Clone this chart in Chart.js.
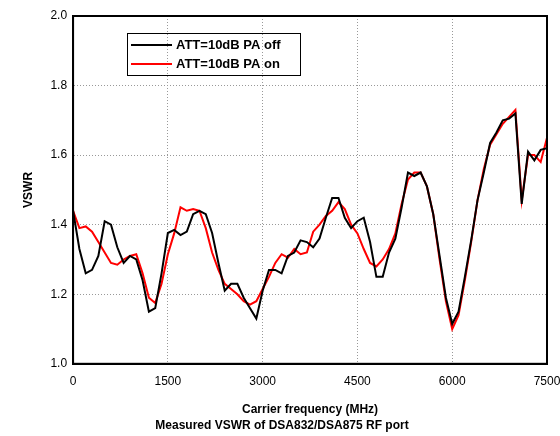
<!DOCTYPE html>
<html><head>
<script src="https://cdn.jsdelivr.net/npm/chart.js@4.4.1/dist/chart.umd.min.js"></script>
<style>body{margin:0;background:#fff}#wrap{width:560px;height:436px}</style>
</head><body><div id="wrap"><canvas id="c"></canvas></div>
<script>
const freqs = [];
for (let f = 0; f <= 7500; f += 100) freqs.push(f);

const paOff = [1.44,1.33,1.26,1.27,1.31,1.41,1.40,1.335,1.29,1.31,
  1.30,1.24,1.15,1.16,1.26,1.376,1.385,1.37,1.38,1.43,
  1.44,1.43,1.376,1.29,1.21,1.23,1.23,1.19,1.16,1.13,
  1.21,1.27,1.27,1.26,1.31,1.32,1.355,1.35,1.335,1.36,
  1.42,1.477,1.477,1.42,1.39,1.41,1.42,1.35,1.25,1.25,
  1.32,1.36,1.45,1.55,1.54,1.55,1.51,1.43,1.31,1.19,
  1.115,1.15,1.25,1.355,1.47,1.55,1.635,1.665,1.70,1.705,
  1.72,1.46,1.61,1.585,1.615,1.62];

const paOn = [1.44,1.39,1.395,1.38,1.35,1.32,1.29,1.285,1.30,1.31,
  1.315,1.26,1.19,1.175,1.23,1.315,1.375,1.45,1.44,1.445,
  1.44,1.39,1.32,1.27,1.23,1.215,1.20,1.18,1.17,1.18,
  1.215,1.25,1.29,1.315,1.305,1.33,1.315,1.32,1.38,1.40,
  1.425,1.44,1.465,1.445,1.40,1.375,1.33,1.29,1.28,1.30,
  1.33,1.375,1.46,1.53,1.55,1.55,1.51,1.43,1.30,1.18,
  1.10,1.14,1.24,1.35,1.47,1.56,1.63,1.66,1.69,1.71,
  1.73,1.47,1.60,1.60,1.58,1.65];

const legendNames = ['ATT=10dB PA off', 'ATT=10dB PA on'];
const lineColors = ['#000000', '#ff0000'];

const F = 'Liberation Sans, Arial, sans-serif';

const legendBox = {
  id: 'legendBox',
  afterDraw(chart) {
    const ctx = chart.ctx;
    ctx.save();
    ctx.strokeStyle = '#000'; ctx.lineWidth = 1;
    ctx.strokeRect(127.5, 33.5, 173, 42);
    ctx.font = 'bold 13px ' + F;
    ctx.textBaseline = 'middle';
    legendNames.forEach((n, i) => {
      const y = 45 + i * 19;
      ctx.strokeStyle = lineColors[i]; ctx.lineWidth = 2;
      ctx.beginPath(); ctx.moveTo(131, y); ctx.lineTo(172, y); ctx.stroke();
      ctx.fillStyle = '#000';
      ctx.fillText(n, 176, y);
    });
    // frame
    const a = chart.chartArea;
    ctx.strokeStyle = '#000'; ctx.lineWidth = 2;
    ctx.strokeRect(a.left, a.top, a.right - a.left, a.bottom - a.top);
    ctx.restore();
  }
};

new Chart(document.getElementById('c'), {
  type: 'line',
  data: {
    datasets: [
      { label: legendNames[0], data: freqs.map((f, i) => ({x: f, y: paOff[i]})), borderColor: lineColors[0], borderWidth: 2, pointRadius: 0, tension: 0 },
      { label: legendNames[1], data: freqs.map((f, i) => ({x: f, y: paOn[i]})), borderColor: lineColors[1], borderWidth: 2, pointRadius: 0, tension: 0 }
    ]
  },
  options: {
    responsive: true, maintainAspectRatio: false, animation: false,
    layout: { padding: { top: 16, right: 13, bottom: 3, left: 17 } },
    plugins: {
      legend: { display: false },
      tooltip: { enabled: false },
      title: { display: true, position: 'bottom', text: 'Measured VSWR of DSA832/DSA875 RF port', color: '#000', font: { family: F, size: 12, weight: 'bold' }, padding: { top: 2, bottom: 0 } }
    },
    scales: {
      x: {
        type: 'linear', min: 0, max: 7500,
        afterFit: s => { s.paddingRight = 0; },
        ticks: { stepSize: 1500, color: '#000', font: { family: F, size: 12 }, padding: 11, callback: v => String(v) },
        grid: { color: '#999', drawTicks: false },
        border: { color: '#000', width: 2, dash: [1, 2] },
        title: { display: true, text: 'Carrier frequency (MHz)', color: '#000', font: { family: F, size: 12, weight: 'bold' }, padding: { top: 2, bottom: 0 } }
      },
      y: {
        min: 1.0, max: 2.0,
        ticks: { stepSize: 0.2, color: '#000', font: { family: F, size: 12 }, callback: v => v.toFixed(1), padding: 6 },
        grid: { color: '#999', drawTicks: false },
        border: { color: '#000', width: 2, dash: [1, 2] },
        title: { display: true, text: 'VSWR', color: '#000', font: { family: F, size: 12, weight: 'bold' }, padding: { bottom: 9 } }
      }
    }
  },
  plugins: [legendBox]
});
</script></body></html>
